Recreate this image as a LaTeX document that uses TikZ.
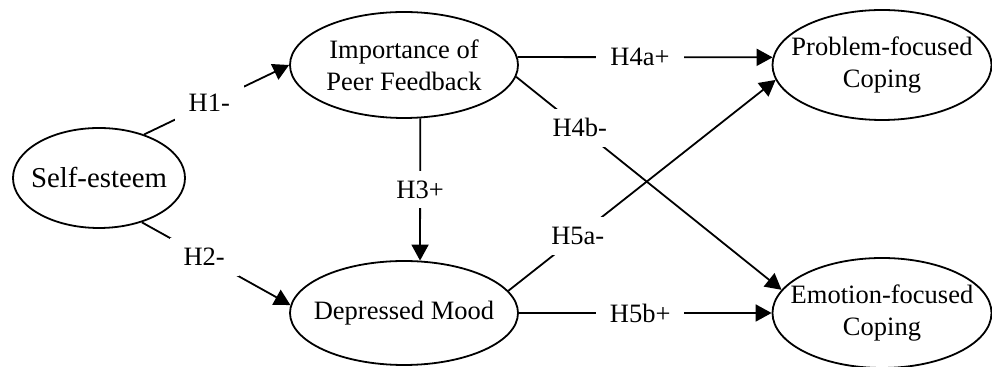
\documentclass[tikz,border=0pt]{standalone}
\usepackage{fontspec}
\setmainfont{Liberation Serif}
\usetikzlibrary{arrows.meta,%
                shapes.geometric,%
                calc
              }
\def\constructs{{(99,178)/self/172/100/\fontsize{14.4}{17}\selectfont Self-esteem},%
  {(404,65)/imp/228/106/Importance of\\Peer Feedback},%
  {(404,313)/dep/228/104/Depressed Mood},%
%
  {(882,65)/pfc/219/110/Problem-focused\\Coping},%
  {(882,313)/efc/219/110/Emotion-focused\\Coping}%
}
\def\hypotheses{% \from/\to/\hpos/\hname
  {self.44/imp.west/0.45/H1-},%
  {self.-46/dep.176/0.42/H2-},%
  {imp.-73/dep.73/0.5/H3+},%
  {imp.4/pfc.176/0.48/H4a+},%
  {imp.-6/efc.167/0.24/H4b-},%
  {dep.12/pfc.188/0.26/H5a-},%
  {dep.east/efc.west/0.48/H5b+}%
}

\begin{document}
\begin{tikzpicture}[x=0.5pt,y=-0.5pt,
    font=\fontsize{13.25}{16}\selectfont,
    construct/.style={ellipse,draw,line width=0.9pt,inner sep=0pt},
    hyp/.style={line width=0.9pt,-{Triangle[length=8pt,width=8.5pt]}},
    hlabel/.style={fill=white,inner xsep=7pt,inner ysep=5pt}]% 

  \useasboundingbox (0,0) rectangle (992,367);

    \foreach \xy/\cname/\w/\h/\ctext in \constructs {%
      \node[construct,minimum width=\w*0.5pt,minimum height=\h*0.5pt] (\cname) at \xy {};%
      \node[align=center] (\cname-text) at (\cname) {\ctext};%
    }

  \foreach \from/\to/\hpos/\hname in \hypotheses {%
    \draw[hyp] (\from) -- node[hlabel,pos=\hpos] (\hname) {\hname} (\to);
  }

\end{tikzpicture}
\end{document}
